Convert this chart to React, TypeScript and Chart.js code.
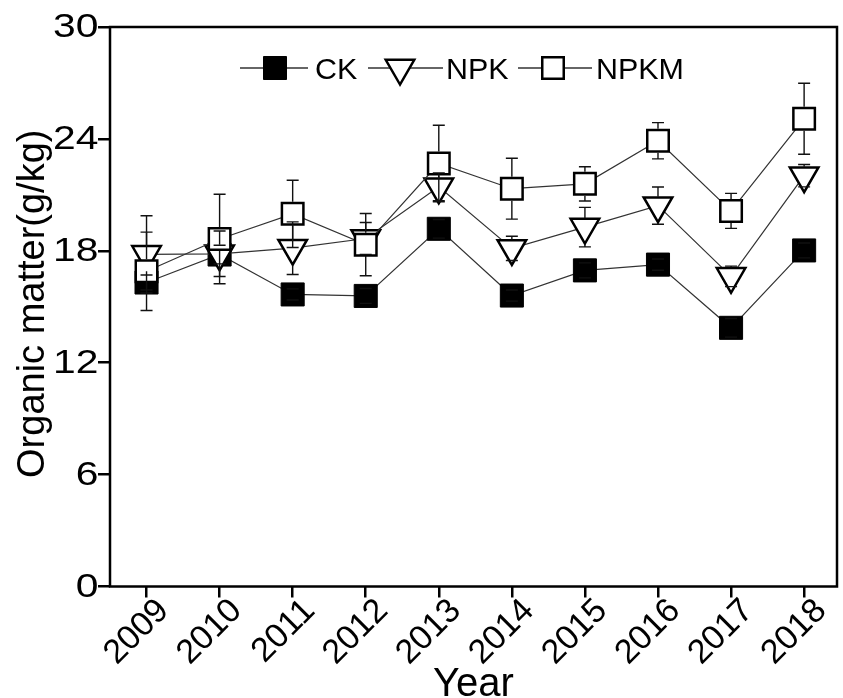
import React, { useEffect, useRef } from "react";
import { Chart, registerables } from "chart.js";

Chart.register(...registerables);

const years = [2009, 2010, 2011, 2012, 2013, 2014, 2015, 2016, 2017, 2018];
const ckValues = [16.3, 17.8, 15.66, 15.58, 19.18, 15.6, 16.95, 17.26, 13.87, 18.02];
const ckErrors = [0.4, 0.5, 0.3, 0.4, 0.5, 0.3, 0.4, 0.3, 0.5, 0.4];
const npkValues = [17.81, 17.84, 18.14, 18.66, 21.43, 18.13, 19.27, 20.42, 16.63, 22.03];
const npkErrors = [2.07, 1.22, 1.41, 0.86, 0.75, 0.65, 1.06, 1.0, 0.55, 0.6];
const npkmValues = [16.9, 18.63, 19.98, 18.33, 22.68, 21.33, 21.59, 23.9, 20.14, 25.08];
const npkmErrors = [2.1, 2.4, 1.8, 1.67, 2.05, 1.63, 0.92, 0.97, 0.94, 1.9];
const seriesNames = ["CK", "NPK", "NPKM"];
const yTickStep = 6;
const yMin = 0;
const yMax = 30;
const xTitle = "Year";
const yTitle = "Organic matter(g/kg)";

const FONT = '"Liberation Sans", Arial, Helvetica, sans-serif';

const errorBarPlugin = {
  id: "errorBars",
  afterDatasetsDraw(chart: any) {
    const ctx = chart.ctx;
    const ys = chart.scales.y;
    ctx.save();
    ctx.strokeStyle = "#111";
    ctx.lineWidth = 1.4;
    chart.data.datasets.forEach((ds: any, i: number) => {
      const meta = chart.getDatasetMeta(i);
      meta.data.forEach((pt: any, j: number) => {
        const v = ds.data[j].y;
        const e = ds.errors[j];
        const x = pt.x;
        const y = pt.y;
        const yt = ys.getPixelForValue(v + e);
        const yb = ys.getPixelForValue(v - e);
        ctx.beginPath();
        if (yt < y - ds.gapUp) {
          ctx.moveTo(x, y - ds.gapUp);
          ctx.lineTo(x, yt);
        }
        if (yb > y + ds.gapDown) {
          ctx.moveTo(x, y + ds.gapDown);
          ctx.lineTo(x, yb);
        }
        ctx.moveTo(x - 6, yt);
        ctx.lineTo(x + 6, yt);
        ctx.moveTo(x - 6, yb);
        ctx.lineTo(x + 6, yb);
        ctx.stroke();
      });
    });
    ctx.restore();
  },
};

const framePlugin = {
  id: "frame",
  beforeDatasetsDraw(chart: any) {
    const { ctx, chartArea } = chart;
    ctx.save();
    ctx.strokeStyle = "#000";
    ctx.lineWidth = 2.5;
    ctx.strokeRect(
      chartArea.left,
      chartArea.top,
      chartArea.right - chartArea.left,
      chartArea.bottom - chartArea.top
    );
    ctx.restore();
  },
};

function drawSquare(ctx: CanvasRenderingContext2D, x: number, y: number, s: number, filled: boolean) {
  ctx.beginPath();
  ctx.rect(x - s / 2, y - s / 2, s, s);
  if (filled) {
    ctx.fillStyle = "#000";
    ctx.fill();
    ctx.lineWidth = 1;
  } else {
    ctx.fillStyle = "#fff";
    ctx.fill();
    ctx.lineWidth = 2.5;
  }
  ctx.strokeStyle = "#000";
  ctx.stroke();
}

function drawTriangle(ctx: CanvasRenderingContext2D, x: number, y: number, r: number) {
  ctx.beginPath();
  ctx.moveTo(x, y + r);
  ctx.lineTo(x - r * 0.866, y - r / 2);
  ctx.lineTo(x + r * 0.866, y - r / 2);
  ctx.closePath();
  ctx.fillStyle = "#fff";
  ctx.fill();
  ctx.lineWidth = 2.5;
  ctx.strokeStyle = "#000";
  ctx.stroke();
}

const annotatePlugin = {
  id: "annotate",
  afterDraw(chart: any) {
    const { ctx, chartArea } = chart;
    ctx.save();
    ctx.fillStyle = "#000";

    // y tick labels (slightly widened glyphs, as in the reference)
    const ys = chart.scales.y;
    ctx.font = `34px ${FONT}`;
    ctx.textAlign = "right";
    ctx.textBaseline = "alphabetic";
    ys.ticks.forEach((t: any) => {
      const py = ys.getPixelForValue(t.value);
      ctx.save();
      ctx.translate(98.5, py + 10);
      ctx.scale(1.2, 1);
      ctx.fillText(String(t.value), 0, 0);
      ctx.restore();
    });

    // x tick labels, rotated 45 degrees
    const xs = chart.scales.x;
    ctx.textAlign = "right";
    ctx.textBaseline = "middle";
    xs.ticks.forEach((t: any) => {
      const px = xs.getPixelForValue(t.value);
      ctx.save();
      ctx.translate(px + 17, chartArea.bottom + 19);
      ctx.rotate(-Math.PI / 4);
      ctx.fillText(String(t.value), 0, 0);
      ctx.restore();
    });

    // axis titles
    ctx.textBaseline = "alphabetic";
    ctx.font = `40px ${FONT}`;
    ctx.textAlign = "center";
    ctx.fillText(xTitle, (chartArea.left + chartArea.right) / 2, 696);
    ctx.font = `38px ${FONT}`;
    ctx.save();
    ctx.translate(44, (chartArea.top + chartArea.bottom) / 2 - 3);
    ctx.rotate(-Math.PI / 2);
    ctx.fillText(yTitle, 0, 0);
    ctx.restore();

    // legend
    const ly = 68;
    const items = [
      { l0: 240, l1: 308, mx: 275, tx: 315, kind: "filled" },
      { l0: 368, l1: 443, mx: 400, tx: 446, kind: "tri" },
      { l0: 518, l1: 592, mx: 553, tx: 596, kind: "open" },
    ];
    items.forEach((it, i) => {
      ctx.beginPath();
      ctx.strokeStyle = "#333";
      ctx.lineWidth = 1.3;
      ctx.moveTo(it.l0, ly);
      ctx.lineTo(it.l1, ly);
      ctx.stroke();
      if (it.kind === "filled") drawSquare(ctx, it.mx, ly, 23, true);
      else if (it.kind === "open") drawSquare(ctx, it.mx, ly, 21.5, false);
      else drawTriangle(ctx, it.mx, ly, 16.5);
      ctx.fillStyle = "#000";
      ctx.font = `29px ${FONT}`;
      ctx.textAlign = "left";
      ctx.textBaseline = "alphabetic";
      ctx.save();
      ctx.translate(it.tx, ly + 10.5);
      ctx.scale(1.05, 1);
      ctx.fillText(seriesNames[i], 0, 0);
      ctx.restore();
    });
    ctx.restore();
  },
};

function toPoints(vals: number[]) {
  return years.map((x, i) => ({ x, y: vals[i] }));
}

export default function App() {
  const ref = useRef<HTMLCanvasElement | null>(null);
  useEffect(() => {
    document.body.style.margin = "0";
    document.body.style.overflow = "hidden";
    const canvas = ref.current;
    if (!canvas) return;
    const chart = new Chart(canvas, {
      type: "line",
      data: {
        datasets: [
          {
            label: seriesNames[0],
            data: toPoints(ckValues),
            errors: ckErrors,
            gapUp: 12,
            gapDown: 12,
            order: 3,
            borderColor: "#333",
            borderWidth: 1.2,
            pointStyle: "rect",
            pointRadius: 16.3,
            pointHoverRadius: 16.3,
            pointBackgroundColor: "#000",
            pointBorderColor: "#000",
            pointBorderWidth: 1,
            fill: false,
          } as any,
          {
            label: seriesNames[1],
            data: toPoints(npkValues),
            errors: npkErrors,
            gapUp: 9,
            gapDown: 17,
            order: 2,
            borderColor: "#333",
            borderWidth: 1.2,
            pointStyle: "triangle",
            pointRotation: 180,
            pointRadius: 16.5,
            pointHoverRadius: 16.5,
            pointBackgroundColor: "#fff",
            pointBorderColor: "#000",
            pointBorderWidth: 2.5,
            fill: false,
          } as any,
          {
            label: seriesNames[2],
            data: toPoints(npkmValues),
            errors: npkmErrors,
            gapUp: 12,
            gapDown: 12,
            order: 1,
            borderColor: "#333",
            borderWidth: 1.2,
            pointStyle: "rect",
            pointRadius: 15.2,
            pointHoverRadius: 15.2,
            pointBackgroundColor: "#fff",
            pointBorderColor: "#000",
            pointBorderWidth: 2.5,
            fill: false,
          } as any,
        ],
      },
      options: {
        animation: false,
        responsive: false,
        maintainAspectRatio: false,
        devicePixelRatio: 1,
        layout: { autoPadding: false, padding: { left: 0, right: 6, top: 27, bottom: 0 } },
        plugins: {
          legend: { display: false },
          tooltip: { enabled: false },
        },
        events: [],
        scales: {
          x: {
            type: "linear",
            min: 2008.5,
            max: 2018.45,
            afterBuildTicks: (scale: any) => {
              scale.ticks = years.map((v) => ({ value: v }));
            },
            afterFit: (scale: any) => {
              scale.height = 111.5;
            },
            border: { display: false },
            grid: {
              display: true,
              drawOnChartArea: false,
              drawTicks: true,
              tickLength: 11,
              color: "#000",
              lineWidth: 2.5,
            },
            ticks: {
              display: false,
              autoSkip: false,
            },
          },
          y: {
            type: "linear",
            min: yMin,
            max: yMax,
            afterFit: (scale: any) => {
              scale.width = 110;
            },
            border: { display: false },
            grid: {
              display: true,
              drawOnChartArea: false,
              drawTicks: true,
              tickLength: 12,
              color: "#000",
              lineWidth: 2.5,
            },
            ticks: {
              display: false,
              stepSize: yTickStep,
            },
          },
        },
      } as any,
      plugins: [framePlugin, errorBarPlugin, annotatePlugin],
    });
    return () => chart.destroy();
  }, []);
  return (
    <div style={{ width: 843, height: 698, position: "relative" }}>
      <canvas ref={ref} width={843} height={698} style={{ display: "block" }} />
    </div>
  );
}
